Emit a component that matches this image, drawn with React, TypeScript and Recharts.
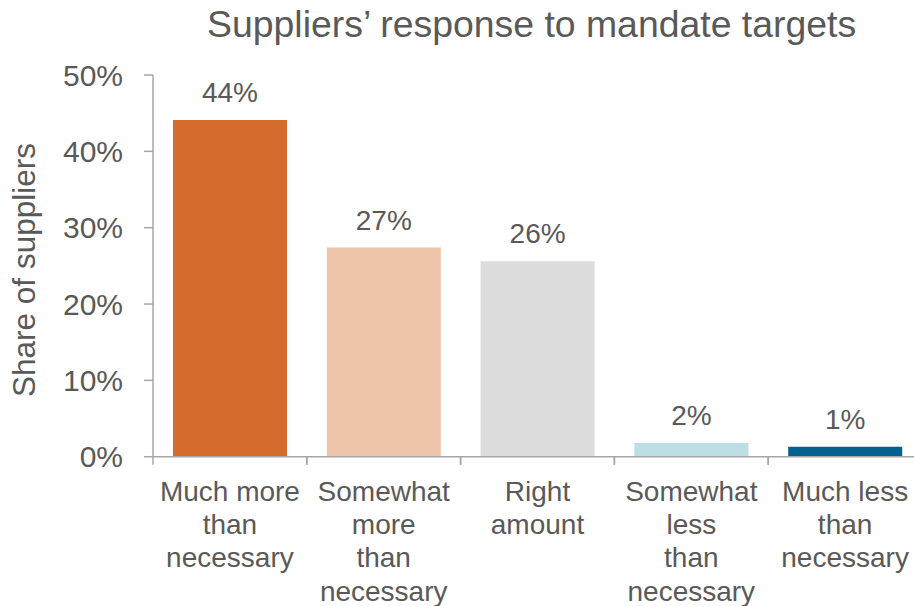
import React from 'react';
import { BarChart, Bar, XAxis, YAxis, Cell, LabelList } from 'recharts';

const categories = [
  'Much more\nthan\nnecessary',
  'Somewhat\nmore\nthan\nnecessary',
  'Right\namount',
  'Somewhat\nless\nthan\nnecessary',
  'Much less\nthan\nnecessary',
];
const shares = [44.1, 27.4, 25.6, 1.8, 1.3];
const shareLabels = ['44%', '27%', '26%', '2%', '1%'];
const barColors = ['#D66B2E', '#EEC4AB', '#DCDCDC', '#BCDFE6', '#03618F'];
const yTicks = [0, 10, 20, 30, 40, 50];

const data = categories.map((name, i) => ({
  name,
  share: shares[i],
  label: shareLabels[i],
}));

const textColor = '#595959';
const axisColor = '#A6A6A6';
const font = '"Liberation Sans", Arial, sans-serif';

// category labels plus tick marks on the band edges
const CategoryTick = (props: any) => {
  const { x, y, payload } = props;
  const half = payload.offset ?? 77;
  const lines = String(payload.value).split('\n');
  return (
    <g transform={`translate(${x},${y})`}>
      <line x1={-half} x2={-half} y1={0} y2={8} stroke={axisColor} strokeWidth={1.5} />
      <line x1={half} x2={half} y1={0} y2={8} stroke={axisColor} strokeWidth={1.5} />
      <text textAnchor="middle" fill={textColor} fontSize={28} fontFamily={font}>
        {lines.map((line, i) => (
          <tspan key={i} x={0} y={44 + i * 33.3}>
            {line}
          </tspan>
        ))}
      </text>
    </g>
  );
};

const App: React.FC = () => {
  return (
    <div
      style={{
        position: 'fixed',
        left: 0,
        top: 0,
        width: 914,
        height: 606,
        overflow: 'hidden',
        background: '#fff',
        fontFamily: font,
      }}
    >
      <div
        style={{
          position: 'absolute',
          left: 207,
          top: 6,
          fontSize: 37.4,
          lineHeight: '37px',
          color: textColor,
          whiteSpace: 'nowrap',
        }}
      >
        Suppliers’ response to mandate targets
      </div>
      <div
        style={{
          position: 'absolute',
          left: 24,
          top: 270,
          transform: 'translate(-50%, -50%) rotate(-90deg)',
          fontSize: 31.5,
          lineHeight: '31px',
          color: textColor,
          whiteSpace: 'nowrap',
        }}
      >
        Share of suppliers
      </div>
      <div style={{ position: 'absolute', left: 0, top: 0 }}>
        <BarChart
          width={922}
          height={606}
          data={data}
          margin={{ top: 75, right: 0, bottom: 0, left: 0 }}
          barCategoryGap={20}
        >
          <XAxis
            dataKey="name"
            height={149.3}
            axisLine={{ stroke: axisColor, strokeWidth: 1.5 }}
            tickLine={false}
            tickSize={0}
            tickMargin={0}
            interval={0}
            tick={<CategoryTick />}
          />
          <YAxis
            width={153}
            domain={[0, 50]}
            ticks={yTicks}
            tickFormatter={(v: number) => `${v}%`}
            tickSize={9}
            tickMargin={21}
            axisLine={{ stroke: axisColor, strokeWidth: 1.5 }}
            tickLine={{ stroke: axisColor, strokeWidth: 1.5 }}
            tick={{ fill: textColor, fontSize: 30, fontFamily: font }}
          />
          <Bar dataKey="share" isAnimationActive={false}>
            {data.map((d, i) => (
              <Cell key={d.name} fill={barColors[i]} />
            ))}
            <LabelList
              dataKey="label"
              position="top"
              offset={18}
              fill={textColor}
              fontSize={28}
              fontFamily={font}
            />
          </Bar>
        </BarChart>
      </div>
    </div>
  );
};

export default App;
